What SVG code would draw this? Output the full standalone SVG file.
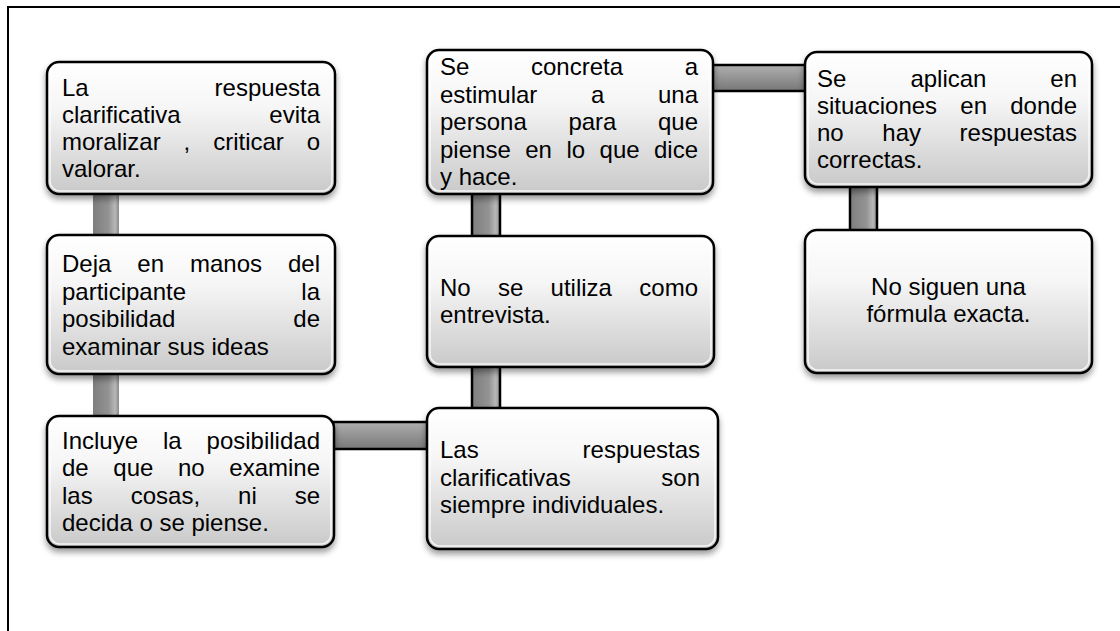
<svg xmlns="http://www.w3.org/2000/svg" width="1120" height="631" viewBox="0 0 1120 631">
<defs>
<linearGradient id="boxg" x1="0" y1="0" x2="0" y2="1">
<stop offset="0" stop-color="#ffffff"/>
<stop offset="0.35" stop-color="#f6f6f6"/>
<stop offset="1" stop-color="#c9c9c9"/>
</linearGradient>
<linearGradient id="vconn" x1="0" y1="0" x2="1" y2="0">
<stop offset="0" stop-color="#7e7e7e"/>
<stop offset="0.6" stop-color="#939393"/>
<stop offset="0.85" stop-color="#b8b8b8"/>
<stop offset="1" stop-color="#8a8a8a"/>
</linearGradient>
<linearGradient id="hconn" x1="0" y1="0" x2="0" y2="1">
<stop offset="0" stop-color="#b0b0b0"/>
<stop offset="0.5" stop-color="#939393"/>
<stop offset="1" stop-color="#787878"/>
</linearGradient>
<filter id="shadow" x="-10%" y="-10%" width="120%" height="130%">
<feDropShadow dx="0" dy="4" stdDeviation="3" flood-color="#000" flood-opacity="0.4"/>
</filter>
</defs>
<style>
.box{fill:url(#boxg);stroke:#000;stroke-width:2.5}
.hl{fill:none;stroke:#fff;stroke-width:1.5;opacity:0.8}
.cv{fill:url(#vconn)}
.cvo{fill:url(#vconn);stroke:#000;stroke-width:2.5}
.cho{fill:url(#hconn);stroke:#000;stroke-width:2.5}
text{font-family:"Liberation Sans",Arial,sans-serif;font-size:24px;fill:#000}
.e{text-anchor:end}
.m{text-anchor:middle}
</style>
<rect width="1120" height="631" fill="#fff"/>
<path d="M8 631 V7 H1120" fill="none" stroke="#000" stroke-width="2"/>

<g id="connectors">
<rect class="cv" x="93" y="192" width="26" height="45"/>
<rect class="cv" x="93" y="372" width="26" height="46"/>
<rect class="cho" x="333" y="422" width="96" height="27"/>
<rect class="cvo" x="472" y="192" width="28" height="46"/>
<rect class="cvo" x="472" y="365" width="28" height="45"/>
<rect class="cho" x="711" y="65" width="96" height="26"/>
<rect class="cvo" x="850" y="185" width="27" height="47"/>
</g>

<g id="nodeA1">
<rect class="box" filter="url(#shadow)" x="47" y="62" width="288" height="132" rx="12"/>
<rect class="hl" x="50" y="65" width="282" height="126" rx="10"/>
<text x="62" y="95.5">La</text><text class="e" x="320" y="95.5">respuesta</text>
<text x="62" y="122.5">clarificativa</text><text class="e" x="320" y="122.5">evita</text>
<text x="62" y="149.5">moralizar</text><text x="183.6" y="149.5">,</text><text x="213.2" y="149.5">criticar</text><text class="e" x="320" y="149.5">o</text>
<text x="62" y="176.5">valorar.</text>
</g>

<g id="nodeA2">
<rect class="box" filter="url(#shadow)" x="47" y="235" width="288" height="139" rx="12"/>
<rect class="hl" x="50" y="238" width="282" height="133" rx="10"/>
<text x="62" y="272">Deja</text><text x="137.3" y="272">en</text><text x="190" y="272">manos</text><text class="e" x="320" y="272">del</text>
<text x="62" y="299.5">participante</text><text class="e" x="320" y="299.5">la</text>
<text x="62" y="327">posibilidad</text><text class="e" x="320" y="327">de</text>
<text x="62" y="354.5">examinar sus ideas</text>
</g>

<g id="nodeA3">
<rect class="box" filter="url(#shadow)" x="47" y="416" width="287" height="131" rx="12"/>
<rect class="hl" x="50" y="419" width="281" height="125" rx="10"/>
<text x="62" y="448.5">Incluye</text><text x="163" y="448.5">la</text><text class="e" x="320" y="448.5">posibilidad</text>
<text x="62" y="476">de</text><text x="113.3" y="476">que</text><text x="178" y="476">no</text><text class="e" x="320" y="476">examine</text>
<text x="62" y="503.5">las</text><text x="130.7" y="503.5">cosas,</text><text x="238.1" y="503.5">ni</text><text class="e" x="320" y="503.5">se</text>
<text x="62" y="531">decida o se piense.</text>
</g>

<g id="nodeB1">
<rect class="box" filter="url(#shadow)" x="427" y="50" width="286" height="144" rx="12"/>
<rect class="hl" x="430" y="53" width="280" height="138" rx="10"/>
<text x="440" y="75">Se</text><text x="531" y="75">concreta</text><text class="e" x="698" y="75">a</text>
<text x="440" y="102.5">estimular</text><text x="591" y="102.5">a</text><text class="e" x="698" y="102.5">una</text>
<text x="440" y="130">persona</text><text x="568.4" y="130">para</text><text class="e" x="698" y="130">que</text>
<text x="440" y="157.5">piense</text><text x="525.2" y="157.5">en</text><text x="566.4" y="157.5">lo</text><text x="599.6" y="157.5">que</text><text class="e" x="698" y="157.5">dice</text>
<text x="440" y="185">y hace.</text>
</g>

<g id="nodeB2">
<rect class="box" filter="url(#shadow)" x="427" y="236" width="287" height="131" rx="12"/>
<rect class="hl" x="430" y="239" width="281" height="125" rx="10"/>
<text x="440" y="295.5">No</text><text x="498" y="295.5">se</text><text x="550.6" y="295.5">utiliza</text><text class="e" x="698" y="295.5">como</text>
<text x="440" y="323">entrevista.</text>
</g>

<g id="nodeB3">
<rect class="box" filter="url(#shadow)" x="427" y="408" width="291" height="141" rx="12"/>
<rect class="hl" x="430" y="411" width="285" height="135" rx="10"/>
<text x="440" y="458">Las</text><text class="e" x="700" y="458">respuestas</text>
<text x="440" y="485.5">clarificativas</text><text class="e" x="700" y="485.5">son</text>
<text x="440" y="513">siempre individuales.</text>
</g>

<g id="nodeC1">
<rect class="box" filter="url(#shadow)" x="805" y="52" width="287" height="135" rx="12"/>
<rect class="hl" x="808" y="55" width="281" height="129" rx="10"/>
<text x="817" y="87">Se</text><text x="910.4" y="87">aplican</text><text class="e" x="1077" y="87">en</text>
<text x="817" y="114">situaciones</text><text x="960.3" y="114">en</text><text class="e" x="1077" y="114">donde</text>
<text x="817" y="141">no</text><text x="882.3" y="141">hay</text><text class="e" x="1077" y="141">respuestas</text>
<text x="817" y="168">correctas.</text>
</g>

<g id="nodeC2">
<rect class="box" filter="url(#shadow)" x="805" y="230" width="287" height="143" rx="12"/>
<rect class="hl" x="808" y="233" width="281" height="137" rx="10"/>
<text class="m" x="948.5" y="295">No siguen una</text>
<text class="m" x="948.5" y="322">fórmula exacta.</text>
</g>
</svg>
